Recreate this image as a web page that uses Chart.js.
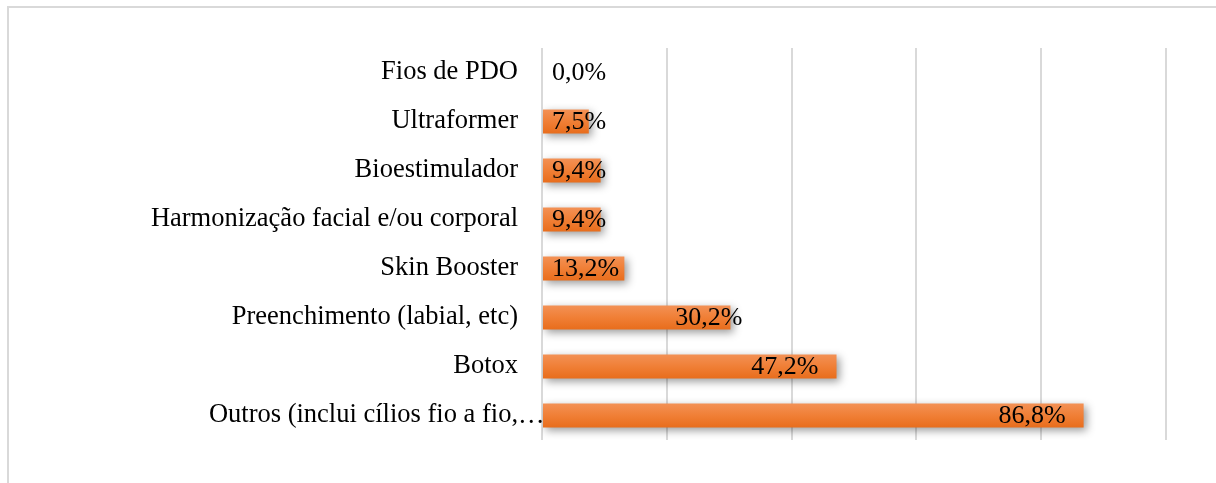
<!DOCTYPE html>
<html>
<head>
<meta charset="utf-8">
<script src="https://cdn.jsdelivr.net/npm/chart.js@4/dist/chart.umd.min.js"></script>
<style>
  html, body { margin: 0; padding: 0; background: #fff; overflow: hidden; }
  #frame {
    position: absolute; left: 7px; top: 6px; width: 1400px; height: 700px;
    border-left: 2px solid #d9d9d9; border-top: 2px solid #d9d9d9;
  }
  #chart { position: absolute; left: 0; top: 0; }
</style>
</head>
<body>
<div id="frame"></div>
<canvas id="chart" width="1216" height="483"></canvas>
<script>
const categories = [
  'Fios de PDO',
  'Ultraformer',
  'Bioestimulador',
  'Harmonização facial e/ou corporal',
  'Skin Booster',
  'Preenchimento (labial, etc)',
  'Botox',
  'Outros (inclui cílios fio a fio,…'
];
const percentValues = [0.0, 7.5, 9.4, 9.4, 13.2, 30.2, 47.2, 86.8];
const xTickMax = 100;
const xTickStep = 20;

const serif = '"Liberation Serif", "Times New Roman", serif';

function fmt(v) {
  return v.toFixed(1).replace('.', ',') + '%';
}

function barFill(context) {
  const chart = context.chart;
  const y = chart.scales && chart.scales.y;
  if (!y || typeof y.getPixelForValue !== 'function' || !isFinite(y.height)) {
    return '#ee7a30';
  }
  const c = y.getPixelForValue(context.dataIndex);
  const half = (y.height / categories.length) * 0.49 / 2;
  const g = chart.ctx.createLinearGradient(0, c - half, 0, c + half);
  g.addColorStop(0, '#f39155');
  g.addColorStop(0.5, '#f07f36');
  g.addColorStop(1, '#e86d1c');
  return g;
}

const barDecor = {
  id: 'barDecor',
  beforeDatasetsDraw(chart) {
    const ctx = chart.ctx;
    ctx.save();
    ctx.shadowColor = 'rgba(0,0,0,0.4)';
    ctx.shadowBlur = 8;
    ctx.shadowOffsetX = 3;
    ctx.shadowOffsetY = 3;
  },
  afterDatasetsDraw(chart) {
    const ctx = chart.ctx;
    ctx.restore();

    const meta = chart.getDatasetMeta(0);
    const x0 = chart.scales.x.getPixelForValue(0);
    ctx.save();
    ctx.font = '26px ' + serif;
    ctx.fillStyle = '#000';
    ctx.textBaseline = 'middle';
    meta.data.forEach(function (bar, i) {
      const text = fmt(percentValues[i]);
      const w = ctx.measureText(text).width;
      const xe = bar.x;
      if (xe - x0 >= w + 140) {
        ctx.textAlign = 'right';
        ctx.fillText(text, xe - 18, bar.y + 1);
      } else if (xe - x0 >= w + 60) {
        ctx.textAlign = 'right';
        ctx.fillText(text, xe + 12, bar.y + 1);
      } else {
        ctx.textAlign = 'left';
        ctx.fillText(text, x0 + 10, bar.y + 1);
      }
    });

    // the ellipsis of a truncated category hangs past the label column
    const y = chart.scales.y;
    ctx.font = '26.5px ' + serif;
    ctx.textAlign = 'left';
    categories.forEach(function (c, i) {
      if (c.endsWith('…')) {
        ctx.fillText('…', y.right - 24, y.getPixelForValue(i) + 1);
      }
    });
    ctx.restore();
  }
};

new Chart(document.getElementById('chart'), {
  type: 'bar',
  data: {
    labels: categories,
    datasets: [{
      data: percentValues,
      backgroundColor: barFill,
      borderWidth: 0,
      categoryPercentage: 1,
      barPercentage: 0.49
    }]
  },
  options: {
    indexAxis: 'y',
    responsive: false,
    animation: false,
    layout: { padding: { left: 0, top: 48, right: 50, bottom: 43 } },
    plugins: {
      legend: { display: false },
      tooltip: { enabled: false }
    },
    scales: {
      x: {
        min: 0,
        max: xTickMax,
        ticks: { display: false, stepSize: xTickStep },
        grid: { color: '#d9d9d9', lineWidth: 2, drawTicks: false },
        border: { display: false },
        afterFit: function (scale) { scale.height = 0; }
      },
      y: {
        grid: { display: false, drawTicks: false },
        border: { display: false },
        ticks: {
          color: '#000',
          font: { family: serif, size: 26.5 },
          padding: 24,
          autoSkip: false,
          callback: function (value) {
            const c = categories[value];
            return c.endsWith('…') ? c.slice(0, -1) : c;
          }
        },
        afterFit: function (scale) { scale.width = 542; }
      }
    }
  },
  plugins: [barDecor]
});
</script>
</body>
</html>
